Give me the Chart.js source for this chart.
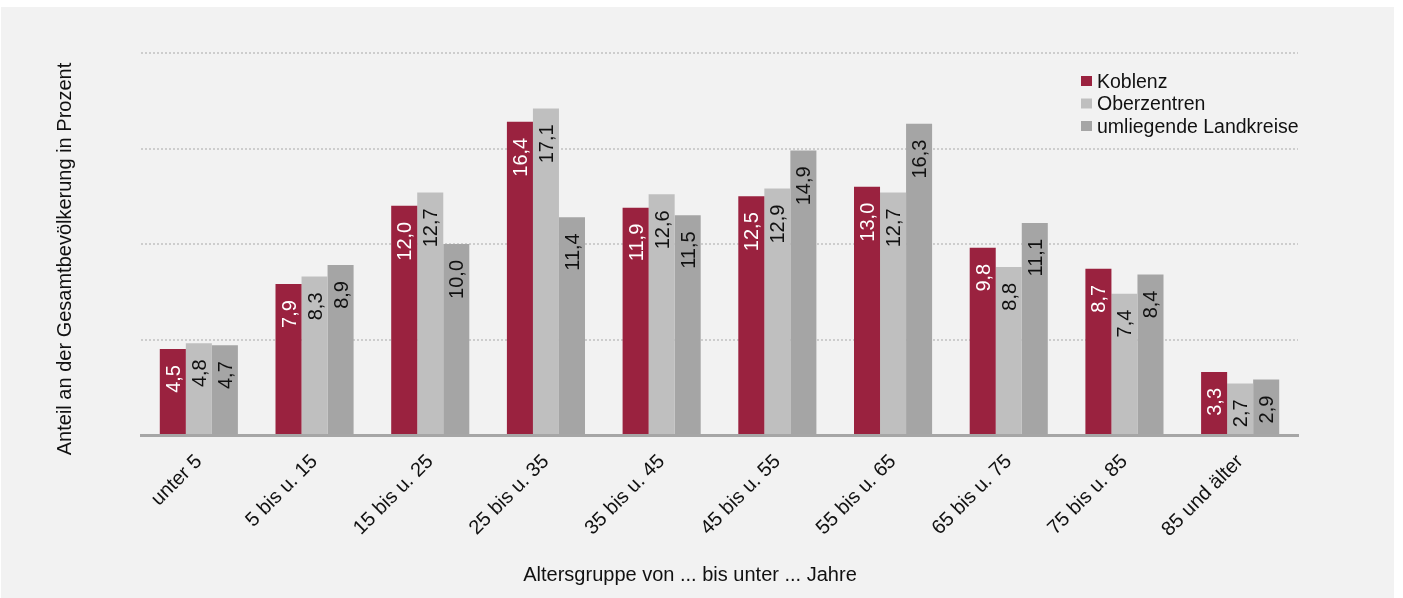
<!DOCTYPE html>
<html lang="de">
<head>
<meta charset="utf-8">
<title>Altersstruktur</title>
<script src="https://cdn.jsdelivr.net/npm/chart.js"></script>
<style>
  html, body { margin: 0; padding: 0; background: #ffffff; }
  #wrap { position: relative; width: 1403px; height: 598px; }
</style>
</head>
<body>
<div id="wrap"><canvas id="grafik" width="1403" height="598"></canvas></div>
<script>
// Daten
const altersgruppen = ['unter 5', '5 bis u. 15', '15 bis u. 25', '25 bis u. 35', '35 bis u. 45',
  '45 bis u. 55', '55 bis u. 65', '65 bis u. 75', '75 bis u. 85', '85 und älter'];
const koblenz = [4.5, 7.9, 12.0, 16.4, 11.9, 12.5, 13.0, 9.8, 8.7, 3.3];
const oberzentren = [4.8, 8.3, 12.7, 17.1, 12.6, 12.9, 12.7, 8.8, 7.4, 2.7];
const landkreise = [4.7, 8.9, 10.0, 11.4, 11.5, 14.9, 16.3, 11.1, 8.4, 2.9];
const serienNamen = ['Koblenz', 'Oberzentren', 'umliegende Landkreise'];

const farben = ['#9a223f', '#bfbfbf', '#a5a5a5'];
const labelFarben = ['#ffffff', '#111111', '#111111'];
const schrift = '"Liberation Sans", Arial, sans-serif';

// Hintergrund (graue Fläche mit weißem Rand)
const hintergrund = {
  id: 'hintergrund',
  beforeDraw(chart) {
    const ctx = chart.ctx;
    ctx.save();
    ctx.fillStyle = '#ffffff';
    ctx.fillRect(0, 0, chart.width, chart.height);
    ctx.fillStyle = '#f2f2f2';
    ctx.fillRect(1, 7, 1393, 591);
    ctx.restore();
  }
};

// Werte senkrecht in die Balken schreiben
const werteLabels = {
  id: 'werteLabels',
  afterDatasetsDraw(chart) {
    const ctx = chart.ctx;
    ctx.save();
    ctx.font = '20px ' + schrift;
    chart.data.datasets.forEach((ds, i) => {
      const meta = chart.getDatasetMeta(i);
      meta.data.forEach((bar, j) => {
        const txt = ds.data[j].toFixed(1).replace('.', ',');
        ctx.save();
        ctx.translate(bar.x, bar.y + 16);
        ctx.rotate(-Math.PI / 2);
        ctx.fillStyle = labelFarben[i];
        ctx.textAlign = 'right';
        ctx.textBaseline = 'alphabetic';
        ctx.fillText(txt, 0, 7);
        ctx.restore();
      });
    });
    ctx.restore();
  }
};

// Achsentitel und Legende
const beschriftung = {
  id: 'beschriftung',
  afterDraw(chart) {
    const ctx = chart.ctx;
    ctx.save();
    ctx.fillStyle = '#111111';
    ctx.font = '20px ' + schrift;
    ctx.textAlign = 'center';
    ctx.textBaseline = 'alphabetic';
    ctx.fillText('Altersgruppe von ... bis unter ... Jahre', 690, 581);

    ctx.save();
    ctx.translate(71, 259);
    ctx.rotate(-Math.PI / 2);
    ctx.fillText('Anteil an der Gesamtbevölkerung in Prozent', 0, 0);
    ctx.restore();

    // Legende
    ctx.font = '19.5px ' + schrift;
    ctx.textAlign = 'left';
    serienNamen.forEach((name, i) => {
      const y = 81 + i * 22.5;
      ctx.fillStyle = farben[i];
      ctx.fillRect(1081, y - 5, 11, 10);
      ctx.fillStyle = '#111111';
      ctx.fillText(name, 1097, y + 6.5);
    });
    ctx.restore();
  }
};

new Chart(document.getElementById('grafik'), {
  type: 'bar',
  data: {
    labels: altersgruppen,
    datasets: [
      { label: serienNamen[0], data: koblenz, backgroundColor: farben[0] },
      { label: serienNamen[1], data: oberzentren, backgroundColor: farben[1] },
      { label: serienNamen[2], data: landkreise, backgroundColor: farben[2] }
    ]
  },
  options: {
    responsive: false,
    animation: false,
    events: [],
    layout: { padding: { left: 0, right: 105, top: 53, bottom: 0 } },
    datasets: { bar: { categoryPercentage: 0.675, barPercentage: 1.0 } },
    plugins: {
      legend: { display: false },
      tooltip: { enabled: false }
    },
    scales: {
      x: {
        grid: { display: false },
        border: { display: true, color: '#a6a6a6', width: 3 },
        ticks: {
          color: '#111111',
          font: { family: schrift, size: 20 },
          maxRotation: 45,
          minRotation: 45,
          padding: 7
        },
        afterFit(scale) { scale.height = 163; }
      },
      y: {
        min: 0,
        max: 20,
        ticks: { display: false, stepSize: 5 },
        grid: {
          drawTicks: false,
          lineWidth: 2,
          color: (c) => c.tick && c.tick.value === 0 ? 'rgba(0,0,0,0)' : '#cdcdcd'
        },
        border: { display: false, dash: [2, 2] },
        afterFit(scale) { scale.width = 141; }
      }
    }
  },
  plugins: [hintergrund, werteLabels, beschriftung]
});
</script>
</body>
</html>
